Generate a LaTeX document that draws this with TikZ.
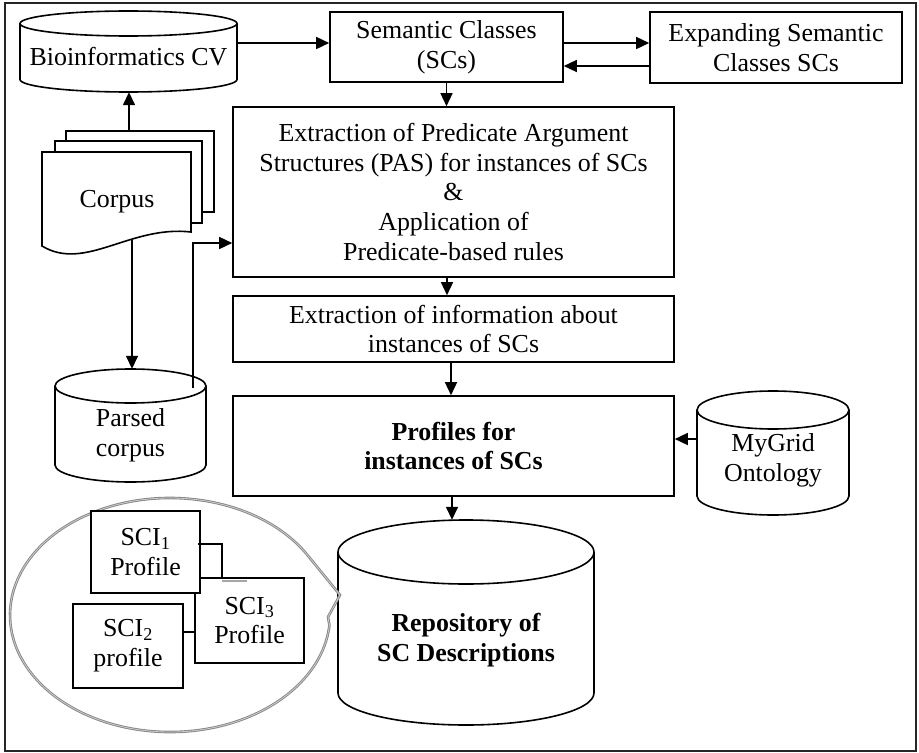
\documentclass[tikz,border=0pt]{standalone}
\usepackage{fontspec}
\setmainfont{Liberation Serif}
\usetikzlibrary{arrows.meta,calc}
\tikzset{
  box/.style={draw, line width=1.6bp, fill=white, align=center, inner sep=0pt},
  cylarea/.style={inner sep=0pt},
  lbl/.style={align=center, inner sep=0pt},
  cylline/.style={line width=1.6bp},
  pageline/.style={line width=1.6bp, fill=white},
  arr/.style={line width=1.5bp, -{Triangle[length=13bp,width=12bp]}},
  thinline/.style={line width=1.3bp},
  bubble/.style={draw=gray!95, double=gray!40, double distance=0.8bp, line width=0.9bp},
}
\newcommand\drawcyl[5]{%
  \pgfmathsetmacro\cylrx{#3/2}%
  \pgfmathsetmacro\cylL{#1-#3/2}%
  \pgfmathsetmacro\cylR{#1+#3/2}%
  \pgfmathsetmacro\cylT{#2+#5}%
  \pgfmathsetmacro\cylB{#2+#4-#5}%
  \draw[cylline, fill=white] (\cylL,\cylT) -- (\cylL,\cylB) arc[start angle=180,end angle=360,x radius=\cylrx bp,y radius=#5bp] -- (\cylR,\cylT);
  \draw[cylline] (#1,\cylT) ellipse[x radius=\cylrx bp,y radius=#5bp];
}
\begin{document}
\begin{tikzpicture}[x=1bp,y=-1bp,font=\fontsize{26}{30}\selectfont]
\useasboundingbox (0,0) rectangle (919,753);
\draw[line width=1.5bp, black!85] (5,3) rectangle (916,751);

% cylinders
\drawcyl{128.5}{11}{217}{81}{12.5}
\node[cylarea, minimum width=217bp, minimum height=81bp,
      label={[lbl,yshift=-5.5bp]center:Bioinformatics CV}] (bio) at (128.5,51.5) {};
\drawcyl{130.5}{369}{151}{113}{17}
\node[cylarea, minimum width=151bp, minimum height=113bp,
      label={[lbl,yshift=-10bp]center:Parsed\\corpus}] (parsed) at (130.5,425.5) {};
\drawcyl{773}{391}{152}{124}{19}
\node[cylarea, minimum width=152bp, minimum height=124bp,
      label={[lbl,yshift=-7bp]center:MyGrid\\Ontology}] (mygrid) at (773,453) {};
\drawcyl{466}{520}{256}{205}{32}
\node[cylarea, minimum width=256bp, minimum height=205bp,
      label={[lbl,yshift=-17.5bp,font=\fontsize{26}{30}\selectfont\bfseries]center:Repository of\\SC Descriptions}] (repo) at (466,622.5) {};

% corpus stack
\draw[pageline] (66,131) rectangle (214,212);
\draw[pageline] (55,141) rectangle (202,223);
\draw[pageline] (42,152) -- (191,152) -- (191,232) .. controls (130,225) and (85,272) .. (42,246) -- cycle;
\node[lbl] (corpus) at (117,202) {Corpus};
\coordinate (ctop) at (129,131);
\coordinate (cbot) at (132,240);

% boxes
\node[box, minimum width=233bp, minimum height=70bp] (sc) at (446.5,47) {Semantic Classes\\(SCs)};
\node[box, minimum width=252bp, minimum height=71bp] (exp) at (776,47.5) {Expanding Semantic\\Classes SCs};
\node[box, minimum width=441bp, minimum height=170bp] (pas) at (453.5,192)
  {Extraction of Predicate Argument\\Structures (PAS) for instances of SCs\\\&\\Application of\\Predicate-based rules};
\node[box, minimum width=441bp, minimum height=66bp] (info) at (453.5,329)
  {Extraction of information about\\instances of SCs};
\node[box, minimum width=441bp, minimum height=100bp, font=\fontsize{26}{30}\selectfont\bfseries] (prof) at (453.5,446)
  {Profiles for\\instances of SCs};

% connectors
\draw[arr] (bio.east |- 0,43) -- (sc.west |- 0,43);
\draw[arr] (sc.east |- 0,43) -- (exp.west |- 0,43);
\draw[arr] (exp.west |- 0,66) -- (sc.east |- 0,66);
\draw[arr] (sc.south) -- (sc.south |- pas.north);
\draw[arr] (447,0 |- pas.south) -- (447,0 |- info.north);
\draw[arr] (451,0 |- info.south) -- (451,0 |- prof.north);
\draw[arr] (452,0 |- prof.south) -- (452,0 |- repo.north);
\draw[arr] (mygrid.west |- 0,439) -- (prof.east |- 0,439);
\draw[arr] (ctop) -- (ctop |- bio.south);
\draw[arr] (cbot) -- (cbot |- parsed.north);
\coordinate (pc1) at (193,388);
\coordinate (pin) at (pas.west |- 0,243);
\draw[arr] (pc1) |- (pin);

% callout bubble
\draw[bubble] (308.6,556.5) arc[start angle=30,end angle=355,x radius=160bp,y radius=117bp]
  -- (328,617) -- (340,595) -- cycle;

% SCI profiles
\node[box, minimum width=109bp, minimum height=85bp] (sci3) at (249.5,620.5) {SCI\textsubscript{3}\\Profile};
\node[box, minimum width=109bp, minimum height=82bp] (sci1) at (145.5,552) {SCI\textsubscript{1}\\Profile};
\node[box, minimum width=110bp, minimum height=84bp] (sci2) at (128,646) {SCI\textsubscript{2}\\profile};
\draw[thinline] (198,0 |- 0,544) -| (222,0 |- sci3.north);
\draw[gray!70, line width=2bp] (222,580.5) -- (247,580.5);
\draw[thinline] (sci2.east |- 0,632) -- (sci3.west |- 0,632);
\end{tikzpicture}
\end{document}
